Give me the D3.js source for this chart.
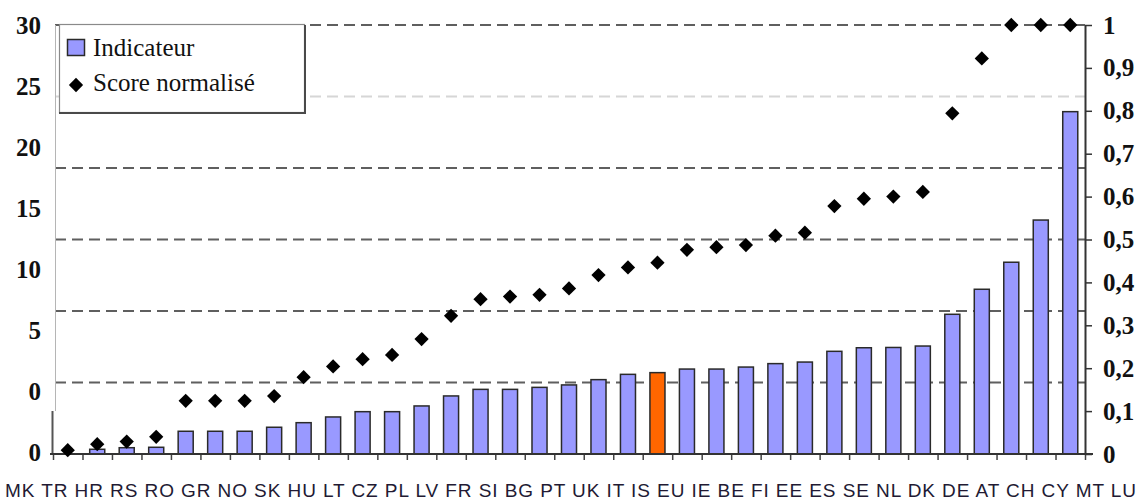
<!DOCTYPE html>
<html>
<head>
<meta charset="utf-8">
<script src="https://cdn.jsdelivr.net/npm/d3@7"></script>
<style>
  html, body { margin: 0; padding: 0; background: #fff; }
  svg { display: block; }
</style>
</head>
<body>
<svg id="chart" width="1148" height="500"></svg>
<script>
// Country codes, in the order shown along the bottom
const categories = ["MK","TR","HR","RS","RO","GR","NO","SK","HU","LT","CZ","PL","LV","FR","SI","BG","PT","UK","IT","IS","EU","IE","BE","FI","EE","ES","SE","NL","DK","DE","AT","CH","CY","MT","LU"];

// Indicateur (bars, left axis)
const indicator = [0, 0.33, 0.44, 0.47, 1.59, 1.59, 1.59, 1.87, 2.19, 2.59, 2.96, 2.96, 3.36, 4.06, 4.52, 4.52, 4.66, 4.83, 5.20, 5.57, 5.69, 5.94, 5.94, 6.08, 6.32, 6.43, 7.18, 7.43, 7.45, 7.55, 9.77, 11.52, 13.41, 16.36, 23.94];

// Score normalisé (diamonds, right axis)
const score = [0.009, 0.023, 0.029, 0.040, 0.124, 0.124, 0.124, 0.135, 0.179, 0.204, 0.221, 0.231, 0.268, 0.322, 0.361, 0.367, 0.371, 0.386, 0.417, 0.435, 0.446, 0.476, 0.482, 0.487, 0.509, 0.516, 0.578, 0.595, 0.600, 0.611, 0.794, 0.922, 1, 1, 1];

// Highlighted aggregate
const highlight = ["EU"];

// Left axis labels as printed, top to bottom
const leftTickLabels = ["30","25","20","15","10","5","0","0"];
// Right axis ticks
const rightTicks = [0, 0.1, 0.2, 0.3, 0.4, 0.5, 0.6, 0.7, 0.8, 0.9, 1];
// Horizontal reference lines (on the indicator scale)
const gridValues = [5, 10, 15, 20, 25, 30];

(function draw() {
  const svg = d3.select("#chart");
  const x0 = 53, x1 = 1085, y0 = 25, yBase = 454;

  const x = d3.scaleBand()
    .domain(categories)
    .range([x0, x1])
    .paddingInner(0.49)
    .paddingOuter(0.245);

  const slot = d3.scaleLinear().domain([0, categories.length]).range([x0, x1]);

  const yBar = d3.scaleLinear().domain([0, 30]).range([yBase, y0]);
  const yScore = d3.scaleLinear().domain([0, 1]).range([yBase, y0]);

  const serif = "'Liberation Serif', 'Times New Roman', serif";
  const sans = "'Liberation Sans', Arial, sans-serif";

  // Dashed reference lines
  svg.append("g")
    .selectAll("line")
    .data(gridValues)
    .join("line")
    .attr("x1", x0 + 2)
    .attr("x2", x1)
    .attr("y1", d => yBar(d))
    .attr("y2", d => yBar(d))
    .attr("stroke", d => d === 25 ? "#d6d6d6" : "#5f5f5f")
    .attr("stroke-width", 2)
    .attr("stroke-dasharray", "11,6");

  // Left vertical rule (light upper part, dark lower part)
  svg.append("line")
    .attr("x1", 55.5).attr("x2", 55.5)
    .attr("y1", y0).attr("y2", 411)
    .attr("stroke", "#b5b5b5").attr("stroke-width", 1);
  svg.append("line")
    .attr("x1", 52.5).attr("x2", 52.5)
    .attr("y1", 411).attr("y2", yBase)
    .attr("stroke", "#555").attr("stroke-width", 2);

  // Bars
  const idx = d3.range(categories.length);
  svg.append("g")
    .selectAll("rect")
    .data(idx)
    .join("rect")
    .attr("x", i => x(categories[i]))
    .attr("width", x.bandwidth())
    .attr("y", i => yBar(indicator[i]))
    .attr("height", i => yBar(0) - yBar(indicator[i]))
    .attr("fill", i => highlight.includes(categories[i]) ? "#ff6600" : "#9999ff")
    .attr("stroke", "#2a2a2a")
    .attr("stroke-width", 1.5);

  // Category ticks along the baseline
  const xAxis = d3.axisBottom(slot)
    .tickValues(d3.range(categories.length + 1))
    .tickFormat("")
    .tickSizeInner(6)
    .tickSizeOuter(0);
  const gx = svg.append("g")
    .attr("transform", `translate(0,${yBase})`)
    .call(xAxis);
  gx.select(".domain").remove();
  gx.selectAll(".tick line").attr("stroke", "#444").attr("stroke-width", 1.5);
  svg.append("line")
    .attr("x1", 50).attr("x2", 1093)
    .attr("y1", yBase).attr("y2", yBase)
    .attr("stroke", "#333").attr("stroke-width", 2);

  // Diamonds
  const diamond = d3.symbol().type(d3.symbolDiamond2).size(130);
  svg.append("g")
    .selectAll("path")
    .data(idx)
    .join("path")
    .attr("d", diamond)
    .attr("transform", i => `translate(${x(categories[i]) + x.bandwidth() / 2},${yScore(score[i])})`)
    .attr("fill", "#000");

  // Right axis
  const yRightAxis = d3.axisRight(yScore)
    .tickValues(rightTicks)
    .tickFormat(d => (d === 0 || d === 1) ? String(d) : d.toFixed(1).replace(".", ","))
    .tickSizeInner(7)
    .tickSizeOuter(0)
    .tickPadding(11);
  const gr = svg.append("g")
    .attr("transform", `translate(${x1},0)`)
    .call(yRightAxis);
  gr.select(".domain").attr("stroke", "#333").attr("stroke-width", 2);
  gr.selectAll(".tick line").attr("stroke", "#333").attr("stroke-width", 1.5);
  gr.selectAll(".tick text")
    .attr("font-family", serif)
    .attr("font-size", 25)
    .attr("font-weight", "bold")
    .attr("fill", "#111");

  // Left labels
  const yLeftLabels = d3.scalePoint()
    .domain(d3.range(leftTickLabels.length))
    .range([y0, 452]);
  const gl = svg.append("g")
    .attr("transform", "translate(41,0)")
    .call(d3.axisLeft(yLeftLabels).tickSize(0).tickPadding(0).tickFormat(i => leftTickLabels[i]));
  gl.select(".domain").remove();
  gl.selectAll(".tick text")
    .attr("font-family", serif)
    .attr("font-size", 25)
    .attr("font-weight", "bold")
    .attr("fill", "#111");

  // Category labels, set as one line of text
  const labelRow = svg.append("text")
    .attr("x", 5)
    .attr("y", 497)
    .attr("font-family", sans)
    .attr("font-size", 19)
    .attr("fill", "#221a33")
    .attr("textLength", 1131)
    .attr("lengthAdjust", "spacing");
  labelRow.selectAll("tspan")
    .data(categories)
    .join("tspan")
    .text((d, i) => i < categories.length - 1 ? d + " " : d);

  // Legend
  const legend = svg.append("g");
  legend.append("rect")
    .attr("x", 59.5).attr("y", 24.5)
    .attr("width", 245).attr("height", 88)
    .attr("fill", "#fff")
    .attr("stroke", "#8a8a8a").attr("stroke-width", 1.2);
  legend.append("path")
    .attr("d", "M305,25 V113 H59")
    .attr("fill", "none")
    .attr("stroke", "#4a4a4a").attr("stroke-width", 2);
  legend.append("rect")
    .attr("x", 67.5).attr("y", 39.5)
    .attr("width", 17).attr("height", 16)
    .attr("fill", "#9999ff")
    .attr("stroke", "#2a2a2a").attr("stroke-width", 1.5);
  legend.append("text")
    .attr("x", 93).attr("y", 56)
    .attr("font-family", serif).attr("font-size", 25).attr("fill", "#111")
    .text("Indicateur");
  legend.append("path")
    .attr("d", diamond)
    .attr("transform", "translate(76,85)")
    .attr("fill", "#000");
  legend.append("text")
    .attr("x", 93).attr("y", 91)
    .attr("font-family", serif).attr("font-size", 25).attr("fill", "#111")
    .text("Score normalisé");
})();
</script>
</body>
</html>
